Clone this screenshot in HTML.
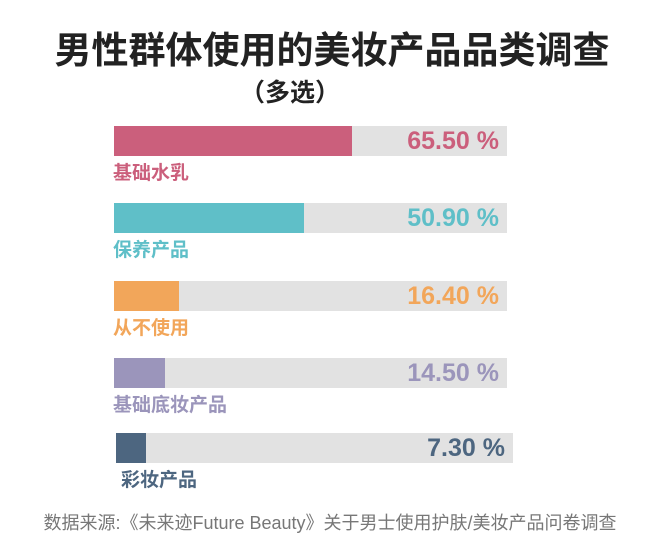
<!DOCTYPE html>
<html><head><meta charset="utf-8"><style>
body{margin:0;width:660px;height:550px;background:#fff;position:relative;overflow:hidden;font-family:"Liberation Sans","Noto Sans CJK SC",sans-serif}
.t{position:absolute;left:0;width:660px;text-align:center;font-weight:bold;color:#222}
.bg{position:absolute;background:#e2e2e2;height:30px}
.f{position:absolute;left:0;top:0;height:30px}
.v{position:absolute;right:8px;top:0;line-height:30px;font-size:25px;font-weight:bold}
.l{position:absolute;font-size:19px;font-weight:bold}
</style></head><body>
<div class="t" style="top:28px;font-size:37px;line-height:46px;left:2px">男性群体使用的美妆产品品类调查</div>
<div class="t" style="top:76px;font-size:25px;line-height:34px;left:-40px">（多选）</div>

<div class="bg" style="left:114px;top:126px;width:393px"><div class="f" style="width:238px;background:#cb5f7c"></div><div class="v" style="color:#cb5f7c">65.50 %</div></div>
<div class="l" style="left:113px;top:158px;color:#cb5f7c">基础水乳</div>

<div class="bg" style="left:114px;top:203px;width:393px"><div class="f" style="width:190px;background:#5fbfc8"></div><div class="v" style="color:#5fbfc8">50.90 %</div></div>
<div class="l" style="left:113px;top:235px;color:#5fbfc8">保养产品</div>

<div class="bg" style="left:114px;top:281px;width:393px"><div class="f" style="width:65px;background:#f2a65a"></div><div class="v" style="color:#f2a65a">16.40 %</div></div>
<div class="l" style="left:113px;top:313px;color:#f2a65a">从不使用</div>

<div class="bg" style="left:114px;top:358px;width:393px"><div class="f" style="width:51px;background:#9b95bb"></div><div class="v" style="color:#9b95bb">14.50 %</div></div>
<div class="l" style="left:113px;top:390px;color:#9b95bb">基础底妆产品</div>

<div class="bg" style="left:116px;top:433px;width:397px"><div class="f" style="width:30px;background:#4d6680"></div><div class="v" style="color:#4d6680">7.30 %</div></div>
<div class="l" style="left:121px;top:465px;color:#4d6680">彩妆产品</div>

<div style="position:absolute;left:0;width:660px;top:509px;text-align:center;font-size:18px;color:#777">数据来源:《未来迹Future Beauty》关于男士使用护肤/美妆产品问卷调查</div>
</body></html>
